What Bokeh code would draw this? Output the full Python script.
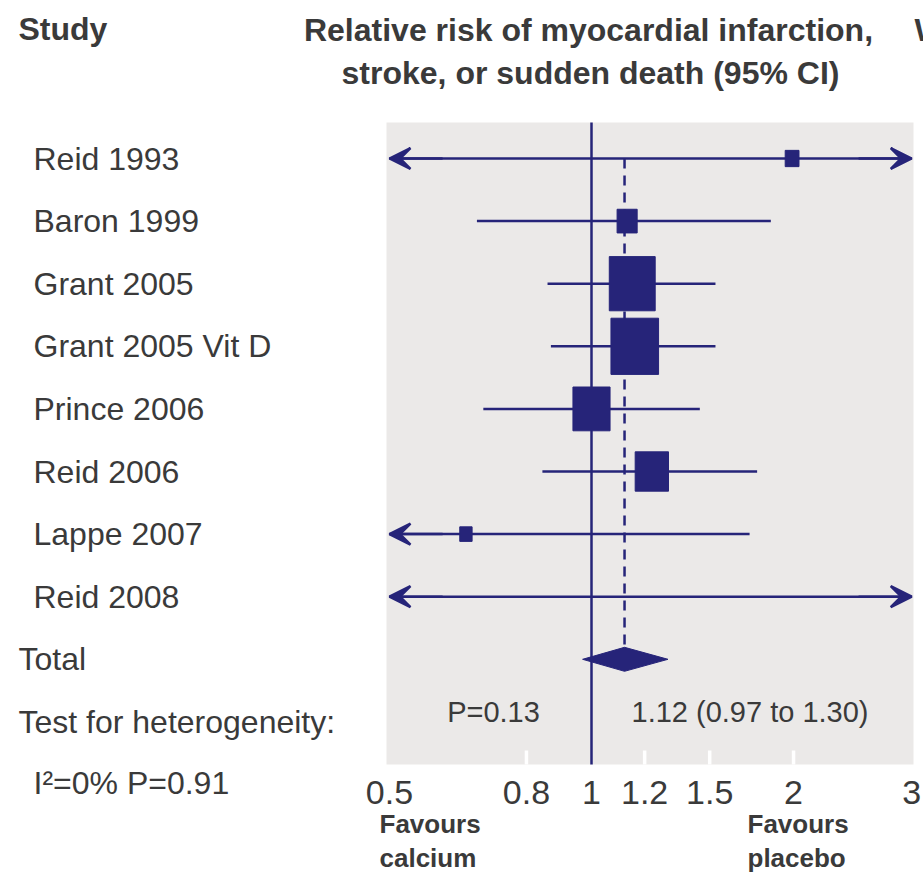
import math
from bokeh.plotting import figure
from bokeh.models import Range1d, LinearScale, ColumnDataSource, Arrow, VeeHead
from bokeh.core.properties import value
from bokeh.embed import file_html
from bokeh.resources import INLINE

# ---------------- data ----------------
studies = ["Reid 1993", "Baron 1999", "Grant 2005", "Grant 2005 Vit D",
           "Prince 2006", "Reid 2006", "Lappe 2007", "Reid 2008"]
rr = [1.99, 1.13, 1.15, 1.16, 1.00, 1.23, 0.65, None]          # None: not estimable
ci_low = [None, 0.675, 0.86, 0.87, 0.69, 0.845, None, None]     # None: beyond axis (arrow)
ci_high = [None, 1.85, 1.53, 1.53, 1.45, 1.765, 1.72, None]     # None: beyond axis (arrow)
weight = [2.5, 5.3, 27.7, 29.8, 18.1, 14.6, 2.0, 0.0]           # % weight

pooled_rr = 1.12
pooled_low = 0.97
pooled_high = 1.30
p_overall = 0.13
i2 = 0
p_het = 0.91

tick_values = [0.5, 0.8, 1, 1.2, 1.5, 2, 3]
tick_labels = ["0.5", "0.8", "1", "1.2", "1.5", "2", "3"]
inner_ticks = [0.8, 1.2, 1.5, 2]
axis_min, axis_max = 0.5, 3

# ---------------- layout ----------------
W, H = 923, 893
X_ONE_PX = 591.0
PX_PER_LN = 291.5
ROW0_PX = 158.0
ROW_PX = 62.6
NAVY = "#262479"
PANEL = "#ebe9e8"
TEXT = "#3a3a3a"
FONT = value("Liberation Sans")

x_start = math.exp(-X_ONE_PX / PX_PER_LN)
x_end = math.exp((W - X_ONE_PX) / PX_PER_LN)

p = figure(width=W, height=H, x_axis_type="log",
           x_range=Range1d(x_start, x_end),
           y_range=Range1d((H - ROW0_PX) / ROW_PX, -ROW0_PX / ROW_PX),
           output_backend="svg", toolbar_location=None, min_border=0,
           x_axis_location=None, y_axis_location=None)
p.outline_line_color = None
p.xgrid.visible = False
p.ygrid.visible = False
p.background_fill_color = "white"
p.border_fill_color = "white"

p.extra_x_ranges = {"px": Range1d(0, W)}
p.extra_x_scales = {"px": LinearScale()}
p.extra_y_ranges = {"py": Range1d(H, 0)}
p.extra_y_scales = {"py": LinearScale()}

PANEL_TOP, PANEL_BOTTOM = 122, 764

# panel
p.quad(left=[386], right=[913], top=[PANEL_TOP], bottom=[PANEL_BOTTOM],
       x_range_name="px", y_range_name="py", fill_color=PANEL, line_color=None)

# inner white ticks
p.segment(x0=inner_ticks, x1=inner_ticks, y0=[PANEL_BOTTOM] * len(inner_ticks),
          y1=[PANEL_BOTTOM - 14] * len(inner_ticks), y_range_name="py",
          line_color="white", line_width=3.5)

# line of no effect
p.segment(x0=[1], x1=[1], y0=[PANEL_TOP], y1=[PANEL_BOTTOM], y_range_name="py",
          line_color=NAVY, line_width=2.5)

total_row = len(studies)
D = 12 / ROW_PX
# pooled dashed line
p.segment(x0=[pooled_rr], x1=[pooled_rr], y0=[0], y1=[total_row - D],
          line_color=NAVY, line_width=2.5, line_dash="10 7")

rows = list(range(len(studies)))
lo_draw = [axis_min if v is None else v for v in ci_low]
hi_draw = [axis_max if v is None else v for v in ci_high]
p.segment(x0=lo_draw, x1=hi_draw, y0=rows, y1=rows, line_color=NAVY, line_width=2.5)

# arrow heads for truncated intervals
left_rows = [r for r, v in zip(rows, ci_low) if v is None]
right_rows = [r for r, v in zip(rows, ci_high) if v is None]
src_l = ColumnDataSource(dict(x0=[0.6] * len(left_rows), x1=[axis_min] * len(left_rows), y=left_rows))
src_r = ColumnDataSource(dict(x0=[2.5] * len(right_rows), x1=[axis_max] * len(right_rows), y=right_rows))
for src in (src_l, src_r):
    p.add_layout(Arrow(end=VeeHead(size=21, fill_color=NAVY, fill_alpha=1.0,
                                   line_color=NAVY, line_width=2.5),
                       x_start="x0", x_end="x1", y_start="y", y_end="y", source=src,
                       line_color=NAVY, line_width=2.5))

# squares
AREA_PER_PCT = 89.8
ASPECT = 1.18
sq_x, sq_y, sq_w, sq_h = [], [], [], []
for r, v, w in zip(rows, rr, weight):
    if v is None or w <= 0:
        continue
    a = w * AREA_PER_PCT
    ww = math.sqrt(a / ASPECT)
    sq_x.append(v); sq_y.append(r); sq_w.append(ww); sq_h.append(ww * ASPECT)
p.rect(x=sq_x, y=sq_y, width=sq_w, height=sq_h, width_units="screen", height_units="screen",
       fill_color=NAVY, line_color=NAVY)

# diamond
p.patch(x=[pooled_low, pooled_rr, pooled_high, pooled_rr],
        y=[total_row, total_row - D, total_row, total_row + D],
        fill_color=NAVY, line_color=NAVY, line_width=1)

# ---------------- texts ----------------
def txt(x, y, t, size, bold=False, align="left", xr="px", yr="py", **kw):
    args = dict(x=x, y=y, text=t, text_font=FONT, text_font_size=f"{size}px",
                text_color=TEXT, text_align=align, text_baseline="middle",
                text_font_style="bold" if bold else "normal", **kw)
    if xr:
        args["x_range_name"] = xr
    if yr:
        args["y_range_name"] = yr
    p.text(**args)

# headers
txt([18], [28], ["Study"], 32, bold=True)
txt([588], [29], ["Relative risk of myocardial infarction,"], 32, bold=True, align="center")
txt([590], [72], ["stroke, or sudden death (95% CI)"], 32, bold=True, align="center")
txt([914], [29], ["Weight"], 32, bold=True)

# study labels
txt([33] * len(studies), rows, studies, 32, yr=None)
txt([18], [total_row], ["Total"], 32, yr=None)
txt([18], [total_row + 1], ["Test for heterogeneity:"], 32, yr=None)
txt([33], [782], [f"I\u00b2={i2}% P={p_het}"], 32)

# pooled stats
txt([493], [711], [f"P={p_overall}"], 29, align="center")
txt([631], [711], [f"{pooled_rr:.2f} ({pooled_low:.2f} to {pooled_high:.2f})"], 29)

# tick labels
txt(tick_values, [792] * len(tick_values), tick_labels, 34, align="center", xr=None)

# favours
txt([379], [823], ["Favours"], 26, bold=True)
txt([379], [857], ["calcium"], 26, bold=True)
txt([747], [823], ["Favours"], 26, bold=True)
txt([747], [857], ["placebo"], 26, bold=True)

open("out.html", "w").write(file_html(p, INLINE))
